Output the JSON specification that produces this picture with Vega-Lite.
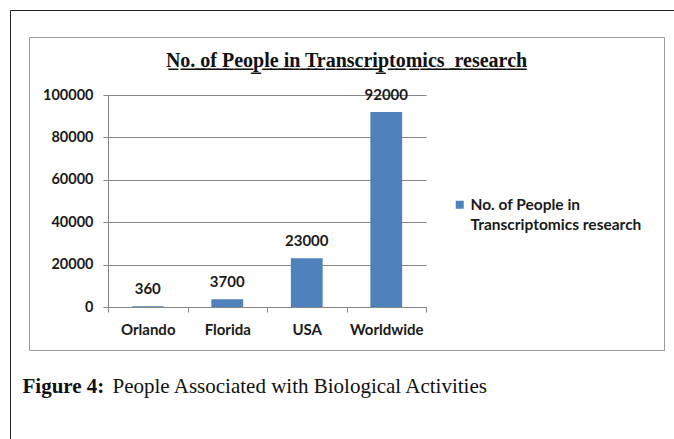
{
  "$schema": "https://vega.github.io/schema/vega-lite/v6.json",
  "width": 635,
  "height": 313,
  "autosize": "none",
  "padding": {"left": 29, "top": 37, "right": 10, "bottom": 89},
  "background": "white",
  "config": {
    "view": {"stroke": "#9a9a9a", "strokeWidth": 1},
    "style": {"guide-label": {"lineHeight": 20}}
  },
  "title": {
    "text": "N\u0332o\u0332.\u0332 \u0332o\u0332f\u0332 \u0332P\u0332e\u0332o\u0332p\u0332l\u0332e\u0332 \u0332i\u0332n\u0332 \u0332T\u0332r\u0332a\u0332n\u0332s\u0332c\u0332r\u0332i\u0332p\u0332t\u0332o\u0332m\u0332i\u0332c\u0332s\u0332\u00a0\u0332 \u0332r\u0332e\u0332s\u0332e\u0332a\u0332r\u0332c\u0332h\u0332",
    "font": "Liberation Serif",
    "fontSize": 20,
    "fontWeight": "bold",
    "color": "#111111",
    "anchor": "middle",
    "frame": "group",
    "baseline": "middle",
    "offset": -71
  },
  "data": {
    "values": [
      {"place": "Orlando", "people": 360, "series": "No. of People in Transcriptomics research"},
      {"place": "Florida", "people": 3700, "series": "No. of People in Transcriptomics research"},
      {"place": "USA", "people": 23000, "series": "No. of People in Transcriptomics research"},
      {"place": "Worldwide", "people": 92000, "series": "No. of People in Transcriptomics research"}
    ]
  },
  "layer": [
    {
      "encoding": {
        "x": {
          "field": "place",
          "type": "nominal",
          "sort": null,
          "title": null,
          "scale": {"range": [79, 397], "paddingInner": 0, "paddingOuter": 0},
          "axis": {
            "orient": "bottom",
            "offset": -43,
            "labelAngle": 0,
            "tickBand": "extent",
            "tickSize": 5,
            "tickColor": "#868686",
            "domainColor": "#868686",
            "labelFont": "Lato",
            "labelFontSize": 15,
            "labelFontWeight": "bold",
            "labelColor": "#1a1a1a",
            "labelPadding": 10
          }
        },
        "y": {
          "field": "people",
          "type": "quantitative",
          "title": null,
          "scale": {"domain": [0, 100000], "range": [270, 58], "nice": false, "zero": true},
          "axis": {
            "orient": "left",
            "offset": -79,
            "values": [0, 20000, 40000, 60000, 80000, 100000],
            "format": "d",
            "grid": true,
            "gridColor": "#868686",
            "gridWidth": 1,
            "tickSize": 5,
            "tickColor": "#868686",
            "domainColor": "#868686",
            "labelFont": "Lato",
            "labelFontSize": 14.5,
            "labelFontWeight": "bold",
            "labelColor": "#1a1a1a",
            "labelPadding": 10
          }
        }
      },
      "layer": [
        {
          "mark": {"type": "bar", "width": {"band": 0.4}},
          "encoding": {
            "color": {
              "field": "series",
              "type": "nominal",
              "scale": {"range": ["#4F81BD"]},
              "legend": {
                "orient": "none",
                "legendX": 423,
                "legendY": 160,
                "title": null,
                "padding": 0,
                "symbolType": "square",
                "symbolSize": 64,
                "symbolStrokeWidth": 0,
                "labelOffset": 3,
                "labelLimit": 400,
                "labelFont": "Lato",
                "labelFontSize": 15.5,
                "labelFontWeight": "bold",
                "labelColor": "#1a1a1a",
                "labelBaseline": "middle",
                "labelExpr": "['No. of People in', 'Transcriptomics research']"
              }
            }
          }
        },
        {
          "mark": {"type": "text", "dy": -12, "baseline": "alphabetic", "font": "Lato", "fontSize": 15, "fontWeight": "bold", "color": "#1a1a1a"},
          "encoding": {
            "text": {"field": "people", "type": "quantitative", "format": "d"}
          }
        }
      ]
    },
    {
      "mark": {"type": "point", "opacity": 0},
      "encoding": {
        "x": {
          "datum": 0,
          "type": "quantitative",
          "scale": {"domain": [0, 1], "range": [-19, 700]},
          "axis": {
            "orient": "top",
            "offset": 27,
            "grid": false,
            "labels": false,
            "ticks": false,
            "domainColor": "#222222",
            "domainWidth": 1,
            "title": "Figure 4:",
            "titleFont": "Liberation Serif",
            "titleFontSize": 21,
            "titleFontWeight": "bold",
            "titleColor": "#111111",
            "titleAlign": "left",
            "titleBaseline": "alphabetic",
            "titleX": -7,
            "titleY": 382
          }
        },
        "y": {
          "datum": 0,
          "type": "quantitative",
          "scale": {"domain": [0, 1], "range": [460, -27]},
          "axis": {
            "orient": "right",
            "offset": -654,
            "grid": false,
            "labels": false,
            "ticks": false,
            "domainColor": "#222222",
            "domainWidth": 1,
            "title": "People Associated with Biological Activities",
            "titleFont": "Liberation Serif",
            "titleFontSize": 21,
            "titleFontWeight": "normal",
            "titleColor": "#111111",
            "titleAngle": 0,
            "titleAlign": "left",
            "titleBaseline": "alphabetic",
            "titleX": 102,
            "titleY": 355
          }
        }
      }
    }
  ],
  "resolve": {
    "scale": {"x": "independent", "y": "independent"},
    "axis": {"x": "independent", "y": "independent"}
  }
}
